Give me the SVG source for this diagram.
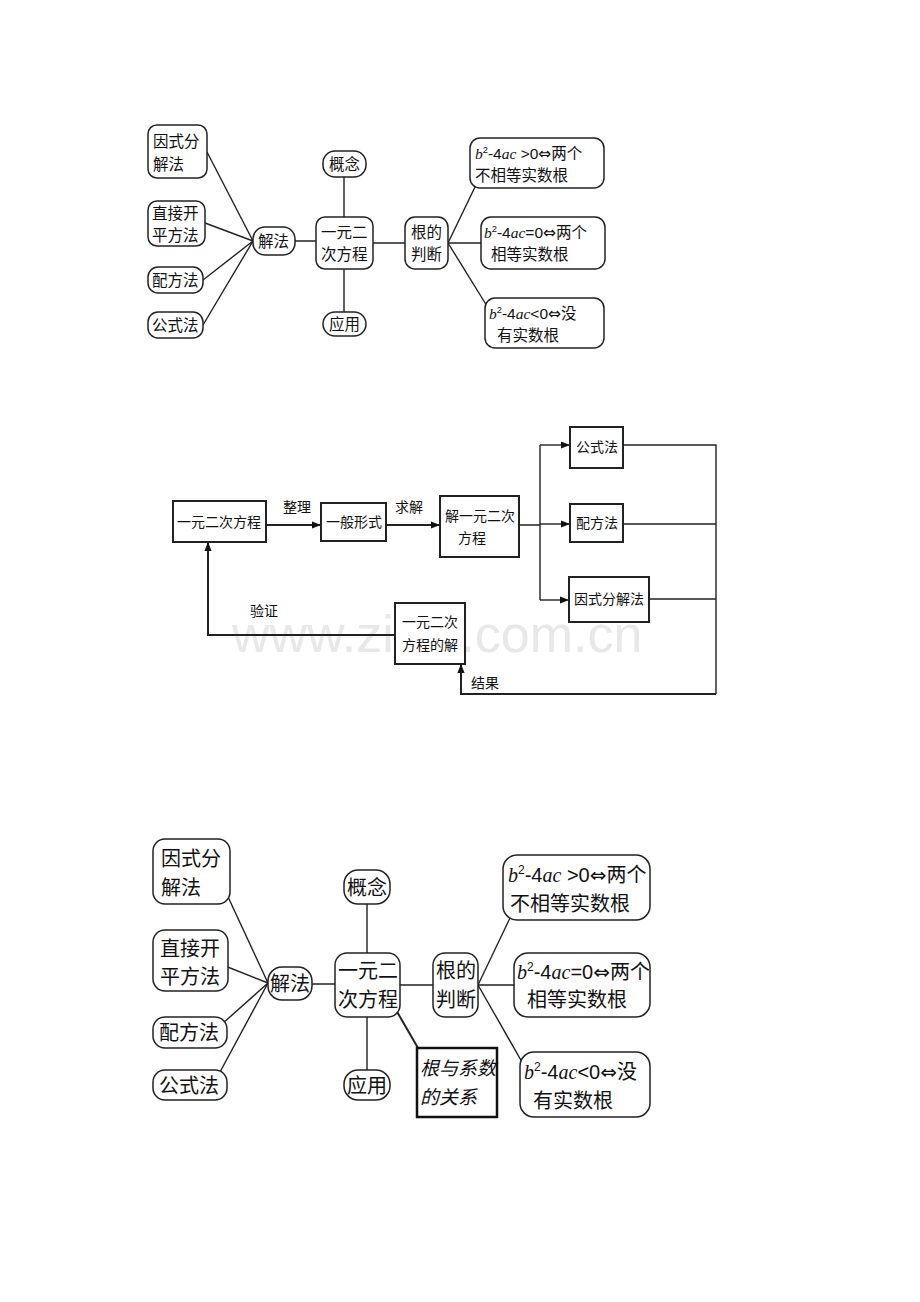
<svg xmlns="http://www.w3.org/2000/svg" width="920" height="1302" viewBox="0 0 920 1302">
<style>
.r{fill:#fff;stroke:#222;stroke-width:1.5}
.b{fill:#fff;stroke:#222;stroke-width:2}
.l{fill:none;stroke:#222;stroke-width:1.4}
.l2{fill:none;stroke:#222;stroke-width:2}
text{font-family:"Liberation Sans","Noto Sans CJK SC",sans-serif;fill:#111}
.t1{font-size:15.5px}
.t2{font-size:14px;font-family:"Liberation Serif","Noto Sans CJK SC",serif}
.t3{font-size:20px}
.i{font-style:italic;font-family:"Liberation Serif",serif}
.s{font-size:60%}
.e{font-family:"DejaVu Sans",sans-serif}
</style>
<defs><marker id="a" viewBox="0 0 10 10" refX="10" refY="5" markerWidth="9" markerHeight="9" markerUnits="userSpaceOnUse" orient="auto"><path d="M0,1 L10,5 L0,9 z" fill="#111"/></marker></defs>

<!-- Diagram 1 -->
<g id="c1">
<path class="l" d="M207,152 L253,241 M205,223 L253,241 M203,280 L253,241 M203,325 L253,241 M295,241 L316,241 M344,177 V217 M344,269 V312 M373,243 H405 M448,243 L475,187 M448,243 H481 M448,243 L487,306"/>
</g>
<g id="d1n1"><rect class="r" x="148" y="125" width="59" height="53" rx="9"/><text class="t1" x="153" y="147">因式分</text><text class="t1" x="153" y="170">解法</text></g>
<g id="d1n2"><rect class="r" x="148" y="201" width="57" height="45" rx="9"/><text class="t1" x="152" y="219">直接开</text><text class="t1" x="152" y="241">平方法</text></g>
<g id="d1n3"><rect class="r" x="148" y="267" width="55" height="26" rx="10"/><text class="t1" x="152" y="286">配方法</text></g>
<g id="d1n4"><rect class="r" x="148" y="312" width="55" height="26" rx="10"/><text class="t1" x="152" y="331">公式法</text></g>
<g id="d1n5"><rect class="r" x="253" y="227" width="42" height="28" rx="12"/><text class="t1" x="258" y="247">解法</text></g>
<g id="d1n6"><rect class="r" x="316" y="217" width="57" height="52" rx="9"/><text class="t1" x="321" y="238">一元二</text><text class="t1" x="321" y="260">次方程</text></g>
<g id="d1n7"><rect class="r" x="323" y="151" width="43" height="26" rx="12"/><text class="t1" x="329" y="170">概念</text></g>
<g id="d1n8"><rect class="r" x="323" y="312" width="43" height="24" rx="12"/><text class="t1" x="329" y="330">应用</text></g>
<g id="d1n9"><rect class="r" x="405" y="217" width="43" height="52" rx="10"/><text class="t1" x="411" y="238">根的</text><text class="t1" x="411" y="260">判断</text></g>
<g id="d1n10"><rect class="r" x="470" y="138" width="134" height="50" rx="10"/><text class="t1" x="475" y="159"><tspan class="i">b</tspan><tspan class="s" dy="-6">2</tspan><tspan dy="6">-4</tspan><tspan class="i">ac</tspan> &gt;0<tspan class="e">⇔</tspan>两个</text><text class="t1" x="475" y="181">不相等实数根</text></g>
<g id="d1n11"><rect class="r" x="481" y="217" width="124" height="52" rx="10"/><text class="t1" x="484" y="238"><tspan class="i">b</tspan><tspan class="s" dy="-6">2</tspan><tspan dy="6">-4</tspan><tspan class="i">ac</tspan>=0<tspan class="e">⇔</tspan>两个</text><text class="t1" x="491" y="260">相等实数根</text></g>
<g id="d1n12"><rect class="r" x="485" y="298" width="119" height="50" rx="10"/><text class="t1" x="489" y="319"><tspan class="i">b</tspan><tspan class="s" dy="-6">2</tspan><tspan dy="6">-4</tspan><tspan class="i">ac</tspan>&lt;0<tspan class="e">⇔</tspan>没</text><text class="t1" x="497" y="341">有实数根</text></g>

<!-- Diagram 2 -->
<text x="232" y="652" font-size="52" style="fill:#e8e8e8;font-family:'Liberation Sans',sans-serif">www.zixin.com.cn</text>
<g id="c2">
<path class="l2" d="M266,525 H321" marker-end="url(#a)"/>
<path class="l2" d="M386,525 H440" marker-end="url(#a)"/>
<path class="l" d="M519,525 H540 M540,445 V600"/>
<path class="l" d="M540,445 H570" marker-end="url(#a)"/>
<path class="l" d="M540,524 H570" marker-end="url(#a)"/>
<path class="l" d="M540,600 H569" marker-end="url(#a)"/>
<path class="l" d="M623,445 H716 V694 M623,524 H716 M649,599 H716"/>
<path class="l2" d="M716,694 H461 V664" marker-end="url(#a)"/>
<path class="l2" d="M395,635 H208 V542" marker-end="url(#a)"/>
</g>
<text class="t2" x="283" y="512">整理</text>
<text class="t2" x="395" y="512">求解</text>
<text class="t2" x="250" y="616">验证</text>
<text class="t2" x="471" y="688">结果</text>
<g id="d2n1"><rect class="b" x="173" y="501" width="93" height="41"/><text class="t2" x="177" y="527">一元二次方程</text></g>
<g id="d2n2"><rect class="b" x="321" y="503" width="65" height="38"/><text class="t2" x="326" y="527">一般形式</text></g>
<g id="d2n3"><rect class="b" x="440" y="496" width="79" height="61"/><text class="t2" x="445" y="521">解一元二次</text><text class="t2" x="458" y="543">方程</text></g>
<g id="d2n4"><rect class="b" x="570" y="427" width="53" height="41"/><text class="t2" x="576" y="452">公式法</text></g>
<g id="d2n5"><rect class="b" x="570" y="504" width="53" height="38"/><text class="t2" x="576" y="528">配方法</text></g>
<g id="d2n6"><rect class="b" x="569" y="577" width="80" height="45"/><text class="t2" x="574" y="604">因式分解法</text></g>
<g id="d2n7"><rect class="b" x="395" y="603" width="70" height="61"/><text class="t2" x="402" y="627">一元二次</text><text class="t2" x="402" y="650">方程的解</text></g>

<!-- Diagram 3 -->
<g id="c3">
<path class="l" d="M216,871 L268,983 M215,962 L268,983 M213,1032 L268,983 M213,1085 L268,983 M312,984 H335 M367,904 V953 M367,1017 V1070 M400,985 H433 M478,985 L510,918 M478,985 H514 M478,985 L522,1062"/>
<path class="l2" d="M396,1010 L418,1048"/>
</g>
<g id="d3n1"><rect class="r" x="153" y="839" width="77" height="65" rx="12"/><text class="t3" x="161" y="866">因式分</text><text class="t3" x="161" y="895">解法</text></g>
<g id="d3n2"><rect class="r" x="153" y="930" width="75" height="61" rx="12"/><text class="t3" x="160" y="956">直接开</text><text class="t3" x="160" y="984">平方法</text></g>
<g id="d3n3"><rect class="r" x="153" y="1017" width="74" height="31" rx="12"/><text class="t3" x="159" y="1040">配方法</text></g>
<g id="d3n4"><rect class="r" x="153" y="1070" width="74" height="30" rx="12"/><text class="t3" x="159" y="1093">公式法</text></g>
<g id="d3n5"><rect class="r" x="268" y="967" width="44" height="33" rx="14"/><text class="t3" x="270" y="991">解法</text></g>
<g id="d3n6"><rect class="r" x="335" y="953" width="65" height="64" rx="12"/><text class="t3" x="338" y="978">一元二</text><text class="t3" x="338" y="1007">次方程</text></g>
<g id="d3n7"><rect class="r" x="344" y="870" width="46" height="34" rx="14"/><text class="t3" x="347" y="895">概念</text></g>
<g id="d3n8"><rect class="r" x="344" y="1070" width="46" height="30" rx="14"/><text class="t3" x="347" y="1093">应用</text></g>
<g id="d3n9"><rect class="r" x="433" y="953" width="45" height="64" rx="12"/><text class="t3" x="436" y="978">根的</text><text class="t3" x="436" y="1007">判断</text></g>
<g id="d3n10"><rect class="r" x="503" y="855" width="147" height="65" rx="14"/><text class="t3" x="508" y="882"><tspan class="i">b</tspan><tspan class="s" dy="-8">2</tspan><tspan dy="8">-4</tspan><tspan class="i">ac</tspan> &gt;0<tspan class="e">⇔</tspan>两个</text><text class="t3" x="510" y="911">不相等实数根</text></g>
<g id="d3n11"><rect class="r" x="514" y="953" width="136" height="64" rx="14"/><text class="t3" x="517" y="979"><tspan class="i">b</tspan><tspan class="s" dy="-8">2</tspan><tspan dy="8">-4</tspan><tspan class="i">ac</tspan>=0<tspan class="e">⇔</tspan>两个</text><text class="t3" x="527" y="1007">相等实数根</text></g>
<g id="d3n12"><rect class="r" x="520" y="1052" width="130" height="65" rx="14"/><text class="t3" x="524" y="1079"><tspan class="i">b</tspan><tspan class="s" dy="-8">2</tspan><tspan dy="8">-4</tspan><tspan class="i">ac</tspan>&lt;0<tspan class="e">⇔</tspan>没</text><text class="t3" x="533" y="1108">有实数根</text></g>
<g id="d3n13"><rect x="417" y="1048" width="80" height="69" fill="#fff" stroke="#111" stroke-width="2.5"/><text class="t3" x="420" y="1075" style="font-style:italic;font-size:19px">根与系数</text><text class="t3" x="420" y="1104" style="font-style:italic;font-size:19px">的关系</text></g>
</svg>
